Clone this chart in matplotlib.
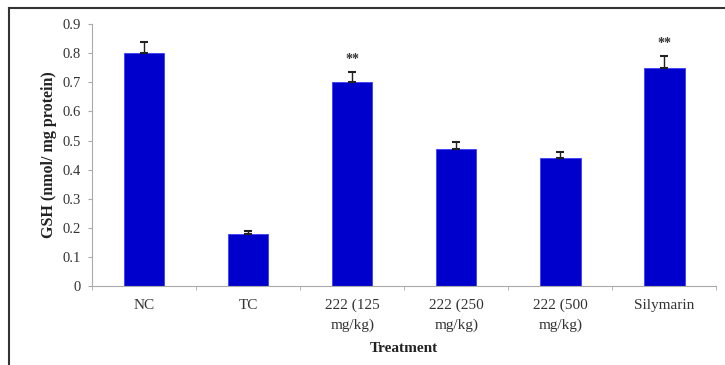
import matplotlib
matplotlib.use('Agg')
import matplotlib.pyplot as plt
from matplotlib.lines import Line2D
import numpy as np

groups = ['NC', 'TC', '222 (125\nmg/kg)', '222 (250\nmg/kg)', '222 (500\nmg/kg)', 'Silymarin']
gsh_mean = [0.80, 0.18, 0.70, 0.47, 0.44, 0.75]
gsh_err = [0.04, 0.01, 0.035, 0.025, 0.02, 0.04]
stars = ['', '', '**', '', '', '**']

plt.rcParams['font.family'] = ['Liberation Serif', 'DejaVu Serif']

fig = plt.figure(figsize=(7.25, 3.65), dpi=100)
ax = fig.add_axes([0.127, 0.2164, 0.861, 0.7176])

x = np.arange(len(groups))
ax.bar(x, gsh_mean, width=0.39, color='#0000cc', edgecolor='#3b3bff', linewidth=0.6,
       yerr=[np.zeros(len(gsh_err)), gsh_err], error_kw=dict(ecolor='#222222', elinewidth=1.0, capsize=3, capthick=1.5))

for xi, m, e, s in zip(x, gsh_mean, gsh_err, stars):
    if s:
        ax.text(xi, m + e + 0.022, s, ha='center', va='bottom', fontsize=10, fontweight='bold', color='#333333')

ax.set_xlim(-0.5, len(groups) - 0.5)
ax.set_ylim(0, 0.9)
ax.set_yticks(np.arange(0, 0.91, 0.1))
ax.set_yticklabels(['0'] + ['%.1f' % v for v in np.arange(0.1, 0.91, 0.1)])
ax.set_xticks(x)
ax.set_xticklabels(groups, fontsize=11, color='#333333', linespacing=1.65)
ax.set_xticks(np.arange(-0.5, len(groups), 1.0), minor=True)
ax.tick_params(axis='x', which='major', length=0, pad=9)
ax.tick_params(axis='x', which='minor', length=3, color='#aaaaaa')
ax.tick_params(axis='y', labelsize=10.5, labelcolor='#333333', length=3, color='#aaaaaa', pad=5)

for side in ['top', 'right']:
    ax.spines[side].set_visible(False)
ax.spines['left'].set_color('#aaaaaa')
ax.spines['bottom'].set_color('#aaaaaa')

ax.set_ylabel('GSH (nmol/ mg protein)', fontsize=11.5, fontweight='bold', color='#222222', labelpad=4)
fig.text(0.127 + 0.861 / 2, 1 - 349 / 365, 'Treatment', ha='center', va='center',
         fontsize=11, fontweight='bold', color='#222222')

# border lines of the figure frame (top and left)
fig.add_artist(Line2D([9 / 725, 1], [1 - 8 / 365, 1 - 8 / 365], color='#333333', lw=1.5))
fig.add_artist(Line2D([9 / 725, 9 / 725], [0, 1 - 8 / 365], color='#333333', lw=1.5))

fig.savefig('out.png', dpi=100)
